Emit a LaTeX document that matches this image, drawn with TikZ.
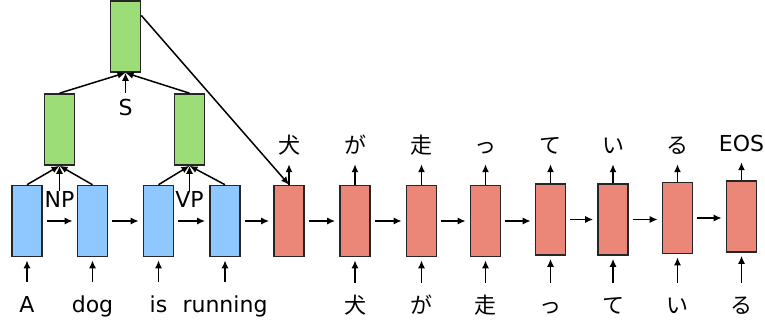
\documentclass[tikz,border=0pt]{standalone}
\usepackage{fontspec}
\setmainfont{DejaVu Sans}
\newfontfamily\jp{Noto Sans CJK JP}
\usetikzlibrary{arrows.meta,calc}

\definecolor{encblue}{RGB}{143,199,255}
\definecolor{treegreen}{RGB}{157,221,120}
\definecolor{decred}{RGB}{235,135,120}

\begin{document}
\begin{tikzpicture}[x=1pt,y=-1pt,
  cell/.style={draw=black!85, line width=1.6pt, minimum width=30pt, minimum height=71pt, inner sep=0pt},
  enc/.style={cell, fill=encblue},
  tree/.style={cell, fill=treegreen},
  dec/.style={cell, fill=decred},
  arr/.style={-{Latex[length=8pt,width=7pt]}, line width=1.5pt},
  word/.style={font=\fontsize{22}{26}\selectfont, inner sep=0pt, anchor=base, text height=16pt, text depth=5pt},
  jword/.style={word, font=\fontsize{22}{26}\selectfont\jp},
  inarr/.style={arr, shorten <=14pt, shorten >=3pt},
  outarr/.style={arr, shorten >=6pt},
  stepr/.style={arr, shorten <=4pt, shorten >=4pt}
]
\useasboundingbox (0,0) rectangle (765,329);

% encoder cells
\node[enc] (e1) at (27,221) {};
\node[enc] (e2) at (92.5,221) {};
\node[enc] (e3) at (158.5,221) {};
\node[enc] (e4) at (225,221) {};

% tree cells
\node[tree] (np) at (59.5,129.5) {};
\node[tree] (vp) at (189.5,129.5) {};
\node[tree] (s) at (125.5,36.5) {};

% decoder cells
\node[dec] (d1) at (289,221) {};
\node[dec] (d2) at (355,221) {};
\node[dec] (d3) at (421.5,221) {};
\node[dec] (d4) at (485.5,221) {};
\node[dec] (d5) at (550.5,219.5) {};
\node[dec] (d6) at (613,219.5) {};
\node[dec] (d7) at (677.5,218) {};
\node[dec] (d8) at (741.5,216.5) {};

% source words
\node[word] (wa) at (27,312) {A};
\node[word] (wb) at (92.5,312) {dog};
\node[word] (wc) at (158.5,312) {is};
\node[word] (wd) at (225,312) {running};

% decoder inputs
\node[jword] (i2) at (355,313) {犬};
\node[jword] (i3) at (421.5,313) {が};
\node[jword] (i4) at (485.5,313) {走};
\node[jword] (i5) at (550.5,313) {っ};
\node[jword] (i6) at (613,313) {て};
\node[jword] (i7) at (677.5,313) {い};
\node[jword] (i8) at (741.5,313) {る};

% decoder outputs
\node[jword] (o1) at (289,153) {犬};
\node[jword] (o2) at (355,153) {が};
\node[jword] (o3) at (421.5,153) {走};
\node[jword] (o4) at (485.5,153) {っ};
\node[jword] (o5) at (550.5,153) {て};
\node[jword] (o6) at (613,153) {い};
\node[jword] (o7) at (677.5,153) {る};
\node[word] (o8) at (741.5,151) {EOS};

% phrase labels
\node[word] (nplab) at (59.5,207) {NP};
\node[word] (vplab) at (189.5,207) {VP};
\node[word] (slab) at (125.5,115) {S};

% recurrent links
\draw[stepr] (e1.east) -- (e1.east -| e2.west);
\draw[stepr] (e2.east) -- (e2.east -| e3.west);
\draw[stepr] (e3.east) -- (e3.east -| e4.west);
\draw[stepr] (e4.east) -- (e4.east -| d1.west);
\draw[stepr] (d1.east) -- (d1.east -| d2.west);
\draw[stepr] (d2.east) -- (d2.east -| d3.west);
\draw[stepr] (d3.east) -- (d3.east -| d4.west);
\draw[stepr] (d4.east) -- (d4.east -| d5.west);
\draw[stepr] (d5.east) -- (d5.east -| d6.west);
\draw[stepr] (d6.east) -- (d6.east -| d7.west);
\draw[stepr] (d7.east) -- (d7.east -| d8.west);

% inputs
\draw[inarr] (wa.north) -- (e1.south);
\draw[inarr] (wb.north) -- (e2.south);
\draw[inarr] (wc.north) -- (e3.south);
\draw[inarr] (wd.north) -- (e4.south);
\draw[inarr] (i2.north) -- (d2.south);
\draw[inarr] (i3.north) -- (d3.south);
\draw[inarr] (i4.north) -- (d4.south);
\draw[inarr] (i5.north) -- (d5.south);
\draw[inarr] (i6.north) -- (d6.south);
\draw[inarr] (i7.north) -- (d7.south);
\draw[inarr] (i8.north) -- (d8.south);

% outputs
\draw[outarr] (d1.north) -- (o1.south);
\draw[outarr] (d2.north) -- (o2.south);
\draw[outarr] (d3.north) -- (o3.south);
\draw[outarr] (d4.north) -- (o4.south);
\draw[outarr] (d5.north) -- (o5.south);
\draw[outarr] (d6.north) -- (o6.south);
\draw[outarr] (d7.north) -- (o7.south);
\draw[outarr] (d8.north) -- (o8.south);

% tree composition
\draw[arr] (e1.north) -- (np.south);
\draw[arr] (e2.north) -- (np.south);
\draw[arr] (nplab.north) -- (np.south);
\draw[arr] (e3.north) -- (vp.south);
\draw[arr] (e4.north) -- (vp.south);
\draw[arr] (vplab.north) -- (vp.south);
\draw[arr] (np.north) -- (s.south);
\draw[arr] (vp.north) -- (s.south);
\draw[arr, shorten <=6pt] (slab.north) -- (s.south);

% sentence vector into the decoder
\draw[arr] ($(s.north east)!0.21!(s.south east)$) -- (d1.north);
\end{tikzpicture}
\end{document}
